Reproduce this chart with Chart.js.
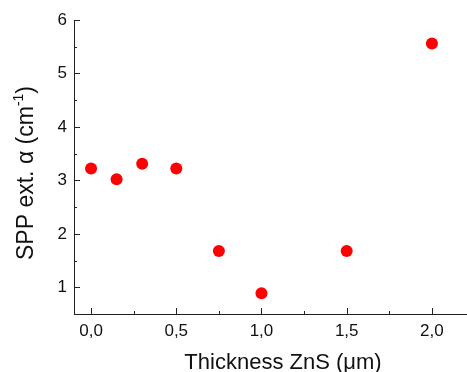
<!DOCTYPE html>
<html>
<head>
<meta charset="utf-8">
<script src="https://cdn.jsdelivr.net/npm/chart.js@4"></script>
<style>
html,body{margin:0;padding:0;background:#fff;overflow:hidden;width:467px;height:372px;}
canvas{display:block;}
</style>
</head>
<body>
<canvas id="c" width="472" height="372"></canvas>
<script>
const thickness = [0.0, 0.15, 0.3, 0.5, 0.75, 1.0, 1.5, 2.0];
const sppExt = [3.22, 3.02, 3.31, 3.22, 1.68, 0.89, 1.68, 5.56];
const xTickValues = [0.0, 0.5, 1.0, 1.5, 2.0];
const xMinorValues = [0.25, 0.75, 1.25, 1.75];
const yTickValues = [1, 2, 3, 4, 5, 6];
const yMinorValues = [1.5, 2.5, 3.5, 4.5, 5.5];
const xTitle = "Thickness ZnS (\u03BCm)";
const yTitleMain = "SPP ext. \u03B1 (cm";
const yTitleSup = "-1";
const yTitleEnd = ")";

const FONT = "'Liberation Sans', Arial, sans-serif";

const axisDeco = {
  id: 'axisDeco',
  afterDraw(chart) {
    const ctx = chart.ctx;
    const xs = chart.scales.x, ys = chart.scales.y;
    const a = chart.chartArea;
    ctx.save();
    ctx.strokeStyle = '#222';
    ctx.lineWidth = 1;
    ctx.beginPath();
    xTickValues.forEach(v => { const p = Math.round(xs.getPixelForValue(v)) + 0.5; ctx.moveTo(p, a.bottom); ctx.lineTo(p, a.bottom - 6); });
    xMinorValues.forEach(v => { const p = Math.round(xs.getPixelForValue(v)) + 0.5; ctx.moveTo(p, a.bottom); ctx.lineTo(p, a.bottom - 3); });
    yTickValues.forEach(v => { const p = Math.round(ys.getPixelForValue(v)) + 0.5; ctx.moveTo(a.left, p); ctx.lineTo(a.left + 6, p); });
    yMinorValues.forEach(v => { const p = Math.round(ys.getPixelForValue(v)) + 0.5; ctx.moveTo(a.left, p); ctx.lineTo(a.left + 3, p); });
    ctx.stroke();

    ctx.fillStyle = '#111';
    // x title
    ctx.font = '22px ' + FONT;
    ctx.textAlign = 'center';
    ctx.textBaseline = 'alphabetic';
    ctx.fillText(xTitle, 283, 369);
    // y title with superscript
    ctx.translate(33, 173);
    ctx.rotate(-Math.PI / 2);
    ctx.font = '23px ' + FONT;
    const w1 = ctx.measureText(yTitleMain).width;
    ctx.font = '14px ' + FONT;
    const w2 = ctx.measureText(yTitleSup).width;
    ctx.font = '23px ' + FONT;
    const w3 = ctx.measureText(yTitleEnd).width;
    let x0 = -(w1 + w2 + w3) / 2;
    ctx.textAlign = 'left';
    ctx.fillText(yTitleMain, x0, 0);
    ctx.font = '14px ' + FONT;
    ctx.fillText(yTitleSup, x0 + w1, -10);
    ctx.font = '23px ' + FONT;
    ctx.fillText(yTitleEnd, x0 + w1 + w2, 0);
    ctx.restore();
  }
};

new Chart(document.getElementById('c'), {
  type: 'scatter',
  data: {
    datasets: [{
      data: thickness.map((x, i) => ({ x: x, y: sppExt[i] })),
      backgroundColor: '#ff0000',
      borderColor: '#ff0000',
      pointRadius: 6,
      pointHoverRadius: 6,
      borderWidth: 0
    }]
  },
  options: {
    responsive: false,
    animation: false,
    devicePixelRatio: 1,
    layout: { padding: { top: 20, right: 0, left: 0, bottom: 0 } },
    plugins: { legend: { display: false }, tooltip: { enabled: false } },
    scales: {
      x: {
        type: 'linear',
        min: -0.1,
        max: 2.2,
        afterBuildTicks: s => { s.ticks = xTickValues.map(v => ({ value: v })); },
        afterFit: s => { s.height = 372 - 314; },
        grid: { display: false, drawTicks: false },
        border: { display: true, color: '#222', width: 1 },
        ticks: {
          padding: 7,
          color: '#111',
          font: { family: FONT, size: 17 },
          maxRotation: 0,
          callback: v => Number(v).toFixed(1).replace('.', ',')
        }
      },
      y: {
        type: 'linear',
        min: 0.5,
        max: 6,
        afterBuildTicks: s => { s.ticks = yTickValues.map(v => ({ value: v })); },
        afterFit: s => { s.width = 74; },
        grid: { display: false, drawTicks: false },
        border: { display: true, color: '#222', width: 1 },
        ticks: {
          padding: 7,
          color: '#111',
          font: { family: FONT, size: 17 },
          callback: v => String(v)
        }
      }
    }
  },
  plugins: [axisDeco]
});
</script>
</body>
</html>
